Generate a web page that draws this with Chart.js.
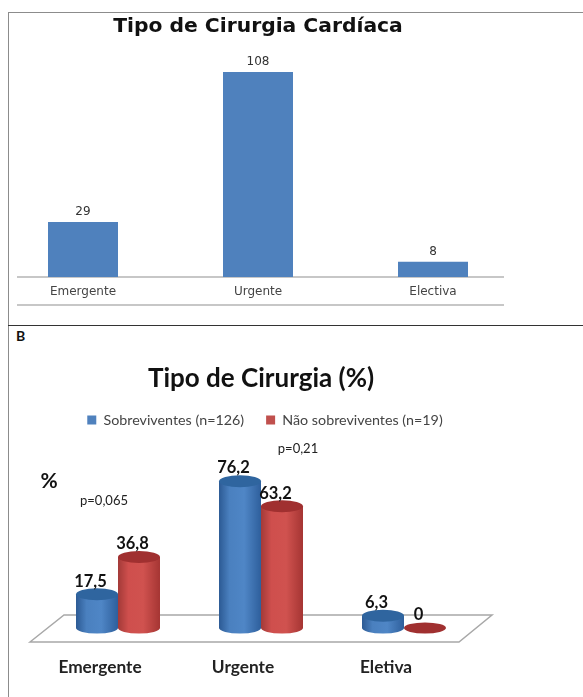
<!DOCTYPE html>
<html>
<head>
<meta charset="utf-8">
<script src="https://cdn.jsdelivr.net/npm/chart.js@4"></script>
<style>
  html, body { margin: 0; padding: 0; background: #fff; overflow: hidden; }
  #page { position: relative; width: 583px; height: 697px; overflow: hidden; }
  canvas { position: absolute; }
  #chartA { left: -20px; top: 13px; }
  #chartB { left: 0; top: 345px; }
  .rule { position: absolute; }
  #frameTop { left: 8px; top: 12px; width: 575px; height: 1px; background: #8c8c8c; }
  #frameLeft { left: 8px; top: 12px; width: 1px; height: 685px; background: #8c8c8c; }
  #frameMid { left: 8px; top: 325px; width: 575px; height: 1px; background: #333; }
  #letterB { position: absolute; left: 16px; top: 327px; font: bold 14px Lato, sans-serif; color: #111; }
</style>
</head>
<body>
<div id="page">
  <div class="rule" id="frameTop"></div>
  <div class="rule" id="frameLeft"></div>
  <div class="rule" id="frameMid"></div>
  <div id="letterB">B</div>
  <canvas id="chartA" width="640" height="310"></canvas>
  <canvas id="chartB" width="583" height="352"></canvas>
</div>
<script>
const cardiacTitle = 'Tipo de Cirurgia Cardíaca';
const cardiacCategories = ['Emergente', 'Urgente', 'Electiva'];
const cardiacCounts = [29, 108, 8];

const percentTitle = 'Tipo de Cirurgia (%)';
const percentCategories = ['Emergente', 'Urgente', 'Eletiva'];
const survivorLabel = 'Sobreviventes (n=126)';
const survivorValues = [17.5, 76.2, 6.3];
const deadLabel = 'Não sobreviventes (n=19)';
const deadValues = [36.8, 63.2, 0];
const pValues = ['p=0,065', 'p=0,21'];

// grey axis lines of the top chart, and the value labels
const cardiacDecor = {
  id: 'cardiacDecor',
  beforeDatasetsDraw(chart) {
    const { ctx, chartArea } = chart;
    ctx.save();
    ctx.strokeStyle = '#b4b4b4';
    ctx.lineWidth = 1.5;
    [chartArea.bottom, chartArea.bottom + 28].forEach((y) => {
      ctx.beginPath();
      ctx.moveTo(chartArea.left + 21.5, y);
      ctx.lineTo(chartArea.left + 508.5, y);
      ctx.stroke();
    });
    ctx.restore();
  },
  afterDatasetsDraw(chart) {
    const { ctx } = chart;
    ctx.save();
    ctx.font = '12px "DejaVu Sans"';
    ctx.fillStyle = '#333';
    ctx.textAlign = 'center';
    ctx.textBaseline = 'middle';
    chart.getDatasetMeta(0).data.forEach((bar, i) => {
      ctx.fillText(cardiacCounts[i], bar.x, bar.y - 10);
    });
    ctx.restore();
  },
};

new Chart(document.getElementById('chartA'), {
  type: 'bar',
  data: {
    labels: cardiacCategories,
    datasets: [{
      data: cardiacCounts,
      backgroundColor: '#4f81bd',
      barPercentage: 0.4,
      categoryPercentage: 1,
    }],
  },
  options: {
    responsive: false,
    animation: false,
    layout: { padding: { left: 15.5, right: 99.5, top: 0, bottom: 0 } },
    plugins: {
      legend: { display: false },
      tooltip: { enabled: false },
      title: {
        display: true,
        text: cardiacTitle,
        fullSize: false,
        color: '#111',
        font: { family: 'DejaVu Sans', size: 20.3, weight: 'bold', lineHeight: 1 },
        padding: { top: 4, bottom: 2.4 },
      },
    },
    scales: {
      x: {
        grid: { display: false, drawTicks: false },
        border: { display: false },
        ticks: { color: '#444', font: { family: 'DejaVu Sans', size: 12 }, padding: 8 },
        afterFit(scale) { scale.height = 46; },
      },
      y: { display: false, min: 0, max: 125 },
    },
  },
  plugins: [cardiacDecor],
});

const cylinderColors = [
  { stops: ['#2c5a94', '#4a80bf', '#4f86c6', '#2e5f9c'], cap: '#2f659f' },
  { stops: ['#a33a38', '#cf4f4d', '#d0524f', '#a53533'], cap: '#a03030' },
];

// floor, cylinder shading and all loose labels of the lower chart
const cylinders = {
  id: 'cylinders',
  afterLayout(chart) {
    chart.legend.left += 4;
    chart.legend.right += 4;
  },
  beforeDatasetsDraw(chart) {
    const { ctx, chartArea } = chart;
    const base = chart.scales.y.getPixelForValue(0);
    ctx.save();
    ctx.strokeStyle = '#a8a8a8';
    ctx.lineWidth = 1.5;
    ctx.beginPath();
    ctx.moveTo(chartArea.left - 16.5, base + 14);
    ctx.lineTo(chartArea.left + 17.5, base - 13);
    ctx.lineTo(chartArea.left + 445.5, base - 13);
    ctx.lineTo(chartArea.left + 412.5, base + 14);
    ctx.closePath();
    ctx.stroke();
    ctx.restore();
  },
  afterDatasetsDraw(chart) {
    const { ctx } = chart;
    ctx.save();
    // blue first so that red sits in front of it
    chart.data.datasets.forEach((ds, d) => {
      const colors = cylinderColors[d];
      chart.getDatasetMeta(d).data.forEach((bar) => {
        const half = bar.width / 2;
        const left = bar.x - half;
        const grad = ctx.createLinearGradient(left, 0, left + bar.width, 0);
        colors.stops.forEach((c, i) => grad.addColorStop([0, 0.25, 0.6, 1][i], c));
        if (bar.base - bar.y < 0.5) {
          ctx.fillStyle = colors.cap;
          ctx.beginPath();
          ctx.ellipse(bar.x, bar.base, half, 5.5, 0, 0, Math.PI * 2);
          ctx.fill();
          return;
        }
        ctx.fillStyle = grad;
        ctx.beginPath();
        ctx.ellipse(bar.x, bar.base, half, 5.5, 0, 0, Math.PI * 2);
        ctx.fill();
        ctx.fillRect(left, bar.y, bar.width, bar.base - bar.y);
        ctx.fillStyle = colors.cap;
        ctx.beginPath();
        ctx.ellipse(bar.x, bar.y, half, 6, 0, 0, Math.PI * 2);
        ctx.fill();
      });
    });
    ctx.textAlign = 'center';
    ctx.textBaseline = 'middle';
    ctx.fillStyle = '#111';
    ctx.font = 'bold 16.5px Lato';
    chart.data.datasets.forEach((ds, d) => {
      chart.getDatasetMeta(d).data.forEach((bar, i) => {
        ctx.fillText(String(ds.data[i]).replace('.', ','), bar.x - 6.5, bar.y - 13);
      });
    });
    ctx.font = '13px Lato';
    ctx.fillStyle = '#222';
    ctx.fillText(pValues[0], 104, 156);
    ctx.fillText(pValues[1], 298, 104);
    ctx.font = 'bold 21px Lato';
    ctx.fillStyle = '#111';
    ctx.fillText('%', 49, 136);
    ctx.restore();
  },
};

new Chart(document.getElementById('chartB'), {
  type: 'bar',
  data: {
    labels: percentCategories,
    datasets: [
      { label: survivorLabel, data: survivorValues, backgroundColor: '#4f81bd', barPercentage: 1, categoryPercentage: 0.587 },
      { label: deadLabel, data: deadValues, backgroundColor: '#c0504d', barPercentage: 1, categoryPercentage: 0.587 },
    ],
  },
  options: {
    responsive: false,
    animation: false,
    layout: { padding: { left: 46.5, right: 107.5, top: 0, bottom: 0 } },
    plugins: {
      tooltip: { enabled: false },
      title: {
        display: true,
        text: percentTitle,
        fullSize: false,
        color: '#111',
        font: { family: 'Lato', size: 26, weight: 'bold', lineHeight: 0.6 },
        padding: { top: 26, bottom: 4.3 },
      },
      legend: {
        position: 'top',
        fullSize: false,
        labels: {
          boxWidth: 9,
          boxHeight: 9,
          padding: 22,
          color: '#444',
          font: { family: 'Lato', size: 14.3 },
        },
      },
    },
    scales: {
      x: {
        grid: { display: false, drawTicks: false },
        border: { display: false },
        ticks: { color: '#222', font: { family: 'Lato', size: 17.3, weight: 'bold' }, padding: 29, labelOffset: -18 },
        afterFit(scale) { scale.height = 69; },
      },
      y: { display: false, min: 0, max: 99 },
    },
  },
  plugins: [cylinders],
});
</script>
</body>
</html>
